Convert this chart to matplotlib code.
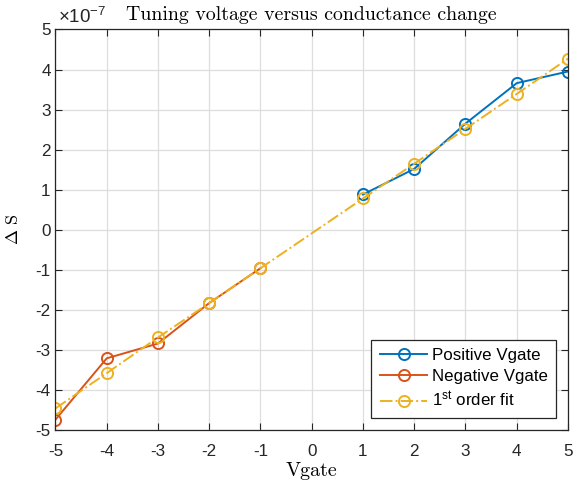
import numpy as np
import matplotlib.pyplot as plt

plt.rcParams['font.family'] = ['Liberation Sans', 'DejaVu Sans']
plt.rcParams['mathtext.fontset'] = 'custom'
plt.rcParams['mathtext.rm'] = 'Liberation Sans'
plt.rcParams['mathtext.it'] = 'Liberation Sans:italic'

# datos (en unidades de 1e-7 S)
vg_pos = [1, 2, 3, 4, 5]
ds_pos = [0.88, 1.52, 2.65, 3.66, 3.95]
vg_neg = [-5, -4, -3, -2, -1]
ds_neg = [-4.74, -3.21, -2.84, -1.83, -0.96]
vg_fit = [-5, -4, -3, -2, -1, 1, 2, 3, 4, 5]
ds_fit = [-4.46, -3.58, -2.69, -1.83, -0.96, 0.78, 1.65, 2.52, 3.39, 4.27]
ticks = [-5, -4, -3, -2, -1, 0, 1, 2, 3, 4, 5]

fig = plt.figure(figsize=(5.75, 4.83), dpi=100)
ax = fig.add_axes([0.0965, 0.1097, 0.8913, 0.8293])

ax.plot(vg_pos, ds_pos, '-o', color='#0072BD', lw=1.4, ms=8, mfc='none', mew=1.4,
        label='Positive Vgate')
ax.plot(vg_neg, ds_neg, '-o', color='#D95319', lw=1.4, ms=8, mfc='none', mew=1.4,
        label='Negative Vgate')
ax.plot(vg_fit, ds_fit, '-.o', color='#EDB120', lw=1.4, ms=8, mfc='none', mew=1.4,
        label=r'1$^{\rm st}$ order fit')

ax.set_xlim(-5, 5)
ax.set_ylim(-5, 5)
ax.set_xticks(ticks)
ax.set_yticks(ticks)
ax.set_xticklabels([str(t) for t in ticks])
ax.set_yticklabels([str(t) for t in ticks])
ax.tick_params(direction='in', top=True, right=True, labelsize=12.3, colors='#262626',
               length=5, width=0.8)
ax.tick_params(axis='x', pad=10)
for s in ax.spines.values():
    s.set_color('#262626')
    s.set_linewidth(0.9)
ax.grid(True, color='#dedede', lw=0.9)
ax.set_axisbelow(True)

ax.set_title('Tuning voltage versus conductance change', fontfamily='cmr10',
             fontsize=14.3, pad=7)
ax.set_xlabel('Vgate', fontfamily='cmr10', fontsize=14.5, labelpad=2)
ax.set_ylabel(r'$\Delta\ \mathrm{S}$', math_fontfamily='cm', fontsize=13, labelpad=10)
ax.text(0.004, 1.006, r'$\times$10$^{-7}$', transform=ax.transAxes, fontsize=13.5,
        color='#262626', va='bottom', ha='left')

leg = ax.legend(loc='lower right', fontsize=12.2, fancybox=False, edgecolor='#262626',
                framealpha=1, borderaxespad=0.7, handlelength=2.8, handletextpad=0.25,
                labelspacing=0.35, borderpad=0.5)
leg.get_frame().set_linewidth(0.9)

fig.savefig('out.png', dpi=100)
